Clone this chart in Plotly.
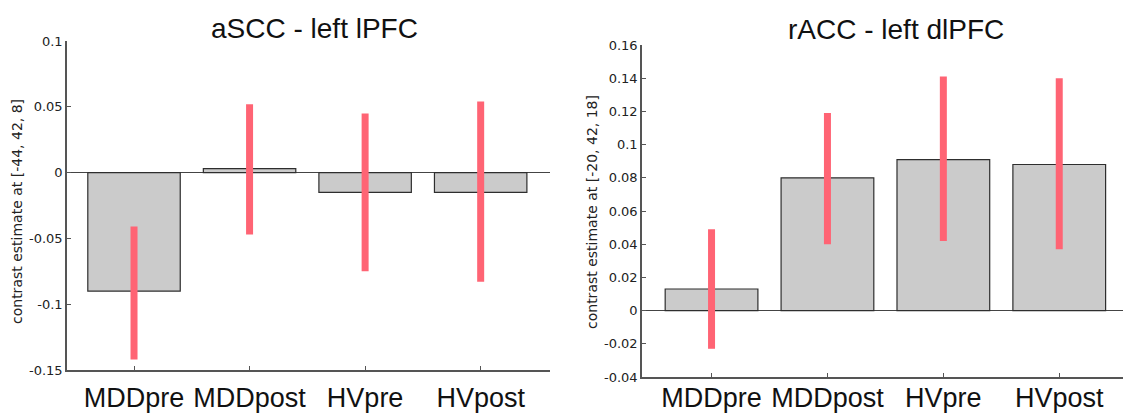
import plotly.graph_objects as go

W, H = 1123, 414

categories = ["MDDpre", "MDDpost", "HVpre", "HVpost"]

# Left panel: aSCC - left lPFC
left_title = "aSCC - left lPFC"
left_ylabel = "contrast estimate at [-44, 42, 8]"
left_values = [-0.090, 0.003, -0.015, -0.015]
left_err_low = [-0.142, -0.047, -0.075, -0.083]
left_err_high = [-0.041, 0.052, 0.045, 0.054]
left_yticks = [-0.15, -0.1, -0.05, 0, 0.05, 0.1]
left_yticktext = ["-0.15", "-0.1", "-0.05", "0", "0.05", "0.1"]

# Right panel: rACC - left dlPFC
right_title = "rACC - left dlPFC"
right_ylabel = "contrast estimate at [-20, 42, 18]"
right_values = [0.013, 0.080, 0.091, 0.088]
right_err_low = [-0.023, 0.040, 0.042, 0.037]
right_err_high = [0.049, 0.119, 0.141, 0.140]
right_yticks = [-0.04, -0.02, 0, 0.02, 0.04, 0.06, 0.08, 0.1, 0.12, 0.14, 0.16]
right_yticktext = ["-0.04", "-0.02", "0", "0.02", "0.04", "0.06", "0.08", "0.1", "0.12", "0.14", "0.16"]

BAR_FILL = "#cbcbcb"
BAR_LINE = "#2e2e2e"
ERR_COLOR = "#ff6474"
AXIS_COLOR = "#555555"
TICK_FONT = dict(family="DejaVu Sans", size=13, color="#222222")
XLAB_FONT = dict(family="Liberation Sans", size=27, color="#111111")

fig = go.Figure()


def add_panel(values, lo, hi, xa, ya):
    fig.add_trace(go.Bar(
        x=list(range(len(categories))), y=values,
        width=0.8,
        marker=dict(color=BAR_FILL, line=dict(color=BAR_LINE, width=1.2)),
        error_y=dict(
            type="data", symmetric=False,
            array=[h - v for h, v in zip(hi, values)],
            arrayminus=[v - l for l, v in zip(lo, values)],
            color=ERR_COLOR, thickness=7, width=0,
        ),
        xaxis=xa, yaxis=ya, showlegend=False, hoverinfo="skip",
    ))


add_panel(left_values, left_err_low, left_err_high, "x", "y")
add_panel(right_values, right_err_low, right_err_high, "x2", "y2")


def px_x(p):
    return p / W


def px_y(p):
    return 1 - p / H


common_x = dict(
    tickmode="array", tickvals=list(range(len(categories))), ticktext=categories,
    ticks="inside", ticklen=4, tickcolor=AXIS_COLOR, tickwidth=1,
    showline=True, linecolor=AXIS_COLOR, linewidth=1.5,
    showgrid=False, zeroline=False, tickfont=XLAB_FONT,
    fixedrange=True, automargin=False,
)
common_y = dict(
    ticks="inside", ticklen=4, tickcolor=AXIS_COLOR, tickwidth=1,
    showline=True, linecolor=AXIS_COLOR, linewidth=1.5,
    showgrid=False, zeroline=True, zerolinecolor="#444444", zerolinewidth=1.2,
    tickfont=TICK_FONT, fixedrange=True, automargin=False,
)

fig.update_layout(
    width=W, height=H,
    margin=dict(l=0, r=0, t=0, b=0, autoexpand=False),
    paper_bgcolor="white", plot_bgcolor="white",
    xaxis=dict(common_x, domain=[px_x(67), px_x(550)], range=[-0.58, 3.6],
               anchor="y", ticklabelstandoff=3),
    yaxis=dict(common_y, domain=[px_y(370), px_y(41)], range=[-0.15, 0.1],
               tickvals=left_yticks, ticktext=left_yticktext, anchor="x"),
    xaxis2=dict(common_x, domain=[px_x(642), 1.0], range=[-0.6, 3.55],
                anchor="y2", ticklabelstandoff=-4),
    yaxis2=dict(common_y, domain=[px_y(377), px_y(45)], range=[-0.04, 0.16],
                tickvals=right_yticks, ticktext=right_yticktext, anchor="x2"),
)

annotations = [
    dict(text=left_title, x=px_x(314), y=px_y(29), xref="paper", yref="paper",
         showarrow=False, xanchor="center", yanchor="middle",
         font=dict(family="Liberation Sans", size=28, color="#111111")),
    dict(text=right_title, x=px_x(896), y=px_y(30), xref="paper", yref="paper",
         showarrow=False, xanchor="center", yanchor="middle",
         font=dict(family="Liberation Sans", size=28, color="#111111")),
    dict(text=left_ylabel, x=px_x(17), y=px_y(212), xref="paper", yref="paper",
         showarrow=False, xanchor="center", yanchor="middle", textangle=-90,
         font=dict(family="DejaVu Sans", size=14, color="#222222")),
    dict(text=right_ylabel, x=px_x(592), y=px_y(212), xref="paper", yref="paper",
         showarrow=False, xanchor="center", yanchor="middle", textangle=-90,
         font=dict(family="DejaVu Sans", size=14, color="#222222")),
]
fig.update_layout(annotations=annotations)

fig.write_html(
    "out.html",
    config={"displayModeBar": False},
    post_script="document.body.style.margin='0';document.body.style.overflow='hidden';",
)
